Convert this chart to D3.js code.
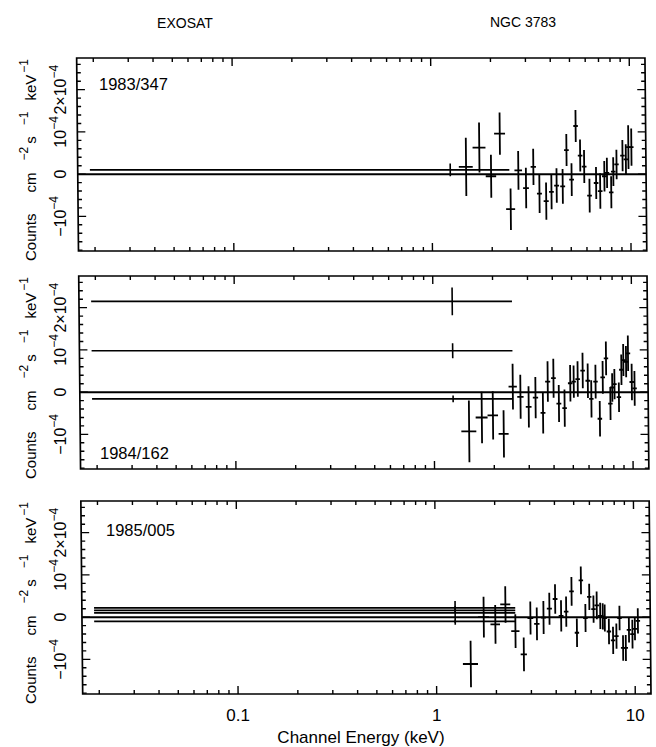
<!DOCTYPE html>
<html>
<head>
<meta charset="utf-8">
<script src="https://cdn.jsdelivr.net/npm/d3@7"></script>
<style>
	body { margin: 0; background: #fff; }
	text { font-family: "Liberation Sans", Arial, sans-serif; fill: #000; }
</style>
</head>
<body>
<svg id="chart" width="656" height="747"></svg>
<script>
'use strict';

//Axis domains (counts in units of 1e-4)
var energyDomain = [0.0165, 12];
var countDomain = [-1.82, 2.75];

var panelLabels = ["1983/347", "1984/162", "1985/005"];
var xTickValues = [0.1, 1, 10];
var xTickLabels = ["0.1", "1", "10"];
var yTickValues = [-1, 0, 1, 2];
var yTickLabels = [["\u221210", "\u22124"], ["0", ""], ["10", "\u22124"], ["2\u00d710", "\u22124"]];

//LE points: [eLow, eHigh, eMid, value, error]
var le1983 = [[0.019, 2.46, 1.24, 0.10, 0.15]];
var le1984 = [
	[0.019, 2.50, 1.25, 2.15, 0.33],
	[0.019, 2.50, 1.25, 0.98, 0.18],
	[0.019, 2.50, 1.25, -0.16, 0.08]
];
var le1985 = [
	[0.019, 2.51, 1.25, 0.22, 0.04],
	[0.019, 2.51, 1.25, 0.16, 0.04],
	[0.019, 2.51, 1.25, 0.10, 0.28],
	[0.019, 2.51, 1.25, -0.10, 0.04]
];

//ME points: [energy, halfWidth, value, error]
var me1983 = [
	[1.49, 0.12, 0.17, 0.69], [1.74, 0.13, 0.63, 0.59], [1.99, 0.12, -0.05, 0.51],
	[2.21, 0.14, 0.96, 0.50], [2.49, 0.13, -0.83, 0.49], [2.73, 0.12, 0.09, 0.46],
	[2.98, 0.10, -0.33, 0.48], [3.25, 0.10, 0.17, 0.43], [3.48, 0.10, -0.46, 0.46],
	[3.76, 0.11, -0.64, 0.44], [4.00, 0.11, -0.42, 0.41], [4.25, 0.12, -0.27, 0.41],
	[4.56, 0.13, -0.29, 0.41], [4.78, 0.13, 0.57, 0.38], [5.06, 0.14, -0.13, 0.39],
	[5.33, 0.14, 1.14, 0.38], [5.60, 0.15, 0.44, 0.38], [5.86, 0.16, 0.18, 0.39],
	[6.22, 0.17, -0.51, 0.40], [6.72, 0.18, -0.21, 0.38], [7.04, 0.19, -0.40, 0.42],
	[7.40, 0.20, -0.05, 0.36], [7.63, 0.20, 0.03, 0.36], [8.00, 0.21, -0.43, 0.38],
	[8.21, 0.22, 0.06, 0.34], [8.53, 0.22, 0.23, 0.35], [9.15, 0.24, 0.44, 0.37],
	[9.51, 0.25, 0.35, 0.36], [9.80, 0.25, 0.64, 0.52], [10.15, 0.26, 0.64, 0.44]
];
var me1984 = [
	[1.50, 0.13, -0.93, 0.73], [1.74, 0.12, -0.60, 0.61], [1.98, 0.12, -0.55, 0.57],
	[2.24, 0.13, -0.99, 0.56], [2.50, 0.12, 0.13, 0.54], [2.73, 0.10, -0.11, 0.52],
	[3.00, 0.10, -0.35, 0.49], [3.25, 0.10, -0.13, 0.49], [3.54, 0.10, -0.49, 0.49],
	[3.75, 0.11, 0.25, 0.48], [4.01, 0.11, 0.33, 0.46], [4.26, 0.12, -0.27, 0.44],
	[4.55, 0.12, -0.38, 0.44], [4.87, 0.13, 0.21, 0.43], [5.07, 0.13, 0.25, 0.38],
	[5.31, 0.14, 0.31, 0.42], [5.63, 0.15, 0.51, 0.42], [5.97, 0.16, 0.27, 0.41],
	[6.21, 0.16, -0.16, 0.44], [6.53, 0.17, 0.25, 0.40], [6.84, 0.18, -0.63, 0.42],
	[7.10, 0.19, 0.35, 0.39], [7.39, 0.19, 0.80, 0.40], [7.74, 0.20, -0.27, 0.39],
	[7.92, 0.21, 0.11, 0.34], [8.13, 0.21, 0.19, 0.36], [8.55, 0.22, -0.12, 0.35],
	[8.82, 0.23, 0.53, 0.36], [9.03, 0.24, 0.76, 0.38], [9.32, 0.24, 0.72, 0.37],
	[9.54, 0.25, 0.92, 0.42], [9.94, 0.26, 0.24, 0.43], [10.26, 0.27, 0.09, 0.41]
];
var me1985 = [
	[1.49, 0.13, -1.11, 0.55], [1.74, 0.11, 0.00, 0.48], [1.99, 0.11, -0.17, 0.46],
	[2.24, 0.13, 0.30, 0.43], [2.51, 0.12, -0.33, 0.40], [2.76, 0.10, -0.88, 0.40],
	[2.99, 0.10, -0.02, 0.39], [3.22, 0.10, -0.16, 0.39], [3.48, 0.10, -0.01, 0.39],
	[3.73, 0.11, 0.20, 0.38], [3.99, 0.11, 0.43, 0.35], [4.27, 0.12, 0.03, 0.37],
	[4.53, 0.12, 0.13, 0.36], [4.83, 0.13, 0.61, 0.34], [5.12, 0.13, -0.37, 0.34],
	[5.39, 0.14, 0.87, 0.33], [5.66, 0.15, -0.02, 0.33], [5.93, 0.15, 0.48, 0.31],
	[6.22, 0.16, 0.19, 0.32], [6.46, 0.17, 0.28, 0.33], [6.72, 0.17, 0.03, 0.31],
	[6.92, 0.18, 0.02, 0.31], [7.08, 0.18, -0.02, 0.32], [7.42, 0.19, -0.34, 0.30],
	[7.78, 0.20, -0.55, 0.32], [8.09, 0.21, -0.45, 0.30], [8.40, 0.22, -0.02, 0.29],
	[8.73, 0.22, -0.73, 0.30], [9.01, 0.23, -0.73, 0.31], [9.36, 0.24, -0.30, 0.30],
	[9.74, 0.25, -0.40, 0.34], [10.03, 0.26, -0.28, 0.27], [10.39, 0.27, -0.09, 0.30]
];

var leSets = [le1983, le1984, le1985];
var meSets = [me1983, me1984, me1985];

//Layout
var svg = d3.select("#chart");
var panelTops = [58, 276, 501];
var panelH = 193;
var x0 = 82.7, x1 = 651;
var skewK = 0.0095, skewRefY = 695;	//the scanned figure leans slightly

var xScale = d3.scaleLog().domain(energyDomain).range([x0, x1]);
var yScale = d3.scaleLinear().domain(countDomain).range([panelH, 0]);

//Minor ticks
var xMinor = [];
[0.01, 0.1, 1, 10].forEach(function(dec) {
	for(var m = 2; m <= 9; m++) {
		var v = dec * m;
		if(v > energyDomain[0] && v < energyDomain[1]) xMinor.push(v);
	}
});
var yMinor = d3.range(-18, 28, 2).map(function(d) { return d / 10; })
	.filter(function(d) { return Math.abs(d - Math.round(d)) > 0.01; });

var plots = svg.append("g")
	.attr("transform", "translate(" + (-skewK * skewRefY) + ",0) skewX(" + (Math.atan(skewK) * 180 / Math.PI) + ")");

panelTops.forEach(function(top, i) {
	var g = plots.append("g").attr("transform", "translate(0," + top + ")");

	g.append("rect")
		.attr("x", x0).attr("y", 0)
		.attr("width", x1 - x0).attr("height", panelH)
		.attr("fill", "none").attr("stroke", "#000").attr("stroke-width", 1.7);

	//x ticks, top and bottom
	var xt = xTickValues.map(function(v) { return { v: v, len: 8 }; })
		.concat(xMinor.map(function(v) { return { v: v, len: 4 }; }));
	g.selectAll(".xtick").data(xt).enter().append("path")
		.attr("d", function(d) {
			var x = xScale(d.v);
			return "M" + x + "," + panelH + "V" + (panelH - d.len) + "M" + x + ",0V" + d.len;
		})
		.attr("stroke", "#000").attr("stroke-width", 1.4);

	//y ticks, left and right
	var yt = yTickValues.map(function(v) { return { v: v, len: 8 }; })
		.concat(yMinor.map(function(v) { return { v: v, len: 4 }; }));
	g.selectAll(".ytick").data(yt).enter().append("path")
		.attr("d", function(d) {
			var y = yScale(d.v);
			return "M" + x0 + "," + y + "H" + (x0 + d.len) + "M" + x1 + "," + y + "H" + (x1 - d.len);
		})
		.attr("stroke", "#000").attr("stroke-width", 1.4);

	//model (zero) line
	g.append("line")
		.attr("x1", x0).attr("x2", x1)
		.attr("y1", yScale(0)).attr("y2", yScale(0))
		.attr("stroke", "#000").attr("stroke-width", 2);

	//LE points
	g.selectAll(".le").data(leSets[i]).enter().append("path")
		.attr("d", function(d) {
			return "M" + xScale(d[0]) + "," + yScale(d[3]) + "H" + xScale(d[1]) +
				"M" + xScale(d[2]) + "," + yScale(d[3] - d[4]) + "V" + yScale(d[3] + d[4]);
		})
		.attr("fill", "none").attr("stroke", "#000").attr("stroke-width", 1.6);

	//ME points
	g.selectAll(".me").data(meSets[i]).enter().append("path")
		.attr("d", function(d) {
			return "M" + xScale(d[0] - d[1]) + "," + yScale(d[2]) + "H" + xScale(d[0] + d[1]) +
				"M" + xScale(d[0]) + "," + yScale(d[2] - d[3]) + "V" + yScale(d[2] + d[3]);
		})
		.attr("fill", "none").attr("stroke", "#000").attr("stroke-width", 1.8);
});

//Text (not skewed)
svg.append("text").attr("x", 185).attr("y", 28).attr("text-anchor", "middle")
	.style("font-size", "14px").text("EXOSAT");
svg.append("text").attr("x", 523).attr("y", 27).attr("text-anchor", "middle")
	.style("font-size", "14px").text("NGC 3783");

var labelPos = [[99, 90], [100, 459], [106, 536]];
panelLabels.forEach(function(lab, i) {
	svg.append("text").attr("x", labelPos[i][0]).attr("y", labelPos[i][1])
		.style("font-size", "16.5px").text(lab);
});

function addRotated(x, y, anchor) {
	return svg.append("text")
		.attr("x", x).attr("y", y)
		.attr("text-anchor", anchor)
		.attr("transform", "rotate(-90," + x + "," + y + ")");
}

var titleParts = [
	{ t: "Counts", dx: 0 }, { t: "cm", dx: 21 }, { t: "\u22122", dx: 12, sup: true },
	{ t: "s", dx: 3 }, { t: "\u22121", dx: 11, sup: true },
	{ t: "keV", dx: 11 }, { t: "\u22121", dx: 2, sup: true }
];

panelTops.forEach(function(top) {
	//tick labels
	yTickValues.forEach(function(v, j) {
		var t = addRotated(66, top + yScale(v), "middle").style("font-size", "16px");
		t.append("tspan").text(yTickLabels[j][0]);
		if(yTickLabels[j][1])
			t.append("tspan").attr("dy", -8).style("font-size", "12px").text(yTickLabels[j][1]);
	});

	//axis title
	var title = addRotated(36, top + panelH + 10, "start").style("font-size", "15px");
	var raised = false;
	titleParts.forEach(function(p) {
		var dy = 0;
		if(p.sup && !raised) { dy = -8; raised = true; }
		else if(!p.sup && raised) { dy = 8; raised = false; }
		var ts = title.append("tspan").attr("dx", p.dx).attr("dy", dy).text(p.t);
		if(p.sup) ts.style("font-size", "12px");
	});
});

xTickValues.forEach(function(v, j) {
	svg.append("text").attr("x", xScale(v)).attr("y", 721)
		.attr("text-anchor", "middle").style("font-size", "17px").text(xTickLabels[j]);
});
svg.append("text").attr("x", 361).attr("y", 743).attr("text-anchor", "middle")
	.style("font-size", "17px").text("Channel Energy (keV)");
</script>
</body>
</html>
